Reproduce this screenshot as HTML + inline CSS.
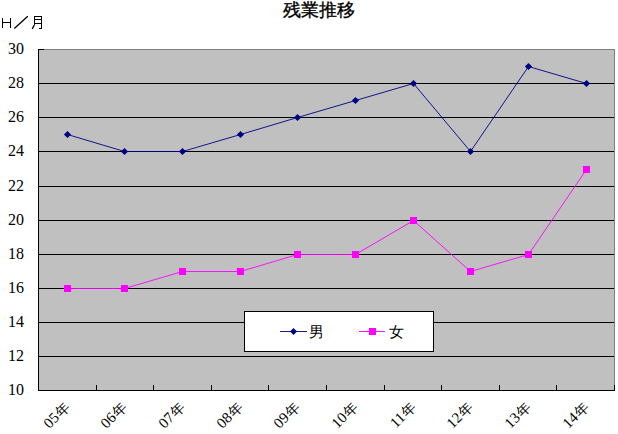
<!DOCTYPE html><html><head><meta charset="utf-8"><style>html,body{margin:0;padding:0;background:#fff;width:618px;height:434px;overflow:hidden}svg{display:block}text{font-family:"Liberation Serif",serif}.g{font-family:"Liberation Sans",sans-serif}</style></head><body><svg width="618" height="434" viewBox="0 0 618 434"><rect x="0" y="0" width="618" height="434" fill="#fff"/><rect x="38" y="49" width="576" height="341" fill="#c0c0c0"/><g shape-rendering="crispEdges" stroke-width="1" fill="none"><path d="M38 49.5H614.5V390" stroke="#808080"/><path d="M38 83.5H614" stroke="#000"/><path d="M38 117.5H614" stroke="#000"/><path d="M38 151.5H614" stroke="#000"/><path d="M38 186.5H614" stroke="#000"/><path d="M38 220.5H614" stroke="#000"/><path d="M38 254.5H614" stroke="#000"/><path d="M38 288.5H614" stroke="#000"/><path d="M38 322.5H614" stroke="#000"/><path d="M38 356.5H614" stroke="#000"/><path d="M38 49.5H44" stroke="#000"/><path d="M38.5 49V390.5H615" stroke="#000"/><path d="M96.5 385V390" stroke="#000"/><path d="M153.5 385V390" stroke="#000"/><path d="M211.5 385V390" stroke="#000"/><path d="M268.5 385V390" stroke="#000"/><path d="M326.5 385V390" stroke="#000"/><path d="M384.5 385V390" stroke="#000"/><path d="M441.5 385V390" stroke="#000"/><path d="M499.5 385V390" stroke="#000"/><path d="M556.5 385V390" stroke="#000"/><path d="M614.5 385V390" stroke="#000"/></g><polyline points="67.5,134.5 124.5,151.5 182.5,151.5 240.5,134.5 297.5,117.5 355.5,100.5 413.5,83.5 470.5,151.5 528.5,66.5 586.5,83.5" fill="none" stroke="#000080" stroke-width="0.9" stroke-linejoin="round"/><polyline points="67.5,288.5 124.5,288.5 182.5,271.5 240.5,271.5 297.5,254.5 355.5,254.5 413.5,220.5 470.5,271.5 528.5,254.5 586.5,169.5" fill="none" stroke="#ff00ff" stroke-width="0.9" stroke-linejoin="round"/><path d="M67.5 130.9L71.1 134.5L67.5 138.1L63.9 134.5Z" fill="#000080"/><path d="M124.5 147.9L128.1 151.5L124.5 155.1L120.9 151.5Z" fill="#000080"/><path d="M182.5 147.9L186.1 151.5L182.5 155.1L178.9 151.5Z" fill="#000080"/><path d="M240.5 130.9L244.1 134.5L240.5 138.1L236.9 134.5Z" fill="#000080"/><path d="M297.5 113.9L301.1 117.5L297.5 121.1L293.9 117.5Z" fill="#000080"/><path d="M355.5 96.9L359.1 100.5L355.5 104.1L351.9 100.5Z" fill="#000080"/><path d="M413.5 79.9L417.1 83.5L413.5 87.1L409.9 83.5Z" fill="#000080"/><path d="M470.5 147.9L474.1 151.5L470.5 155.1L466.9 151.5Z" fill="#000080"/><path d="M528.5 62.9L532.1 66.5L528.5 70.1L524.9 66.5Z" fill="#000080"/><path d="M586.5 79.9L590.1 83.5L586.5 87.1L582.9 83.5Z" fill="#000080"/><rect x="64" y="285" width="7" height="7" fill="#ff00ff"/><rect x="121" y="285" width="7" height="7" fill="#ff00ff"/><rect x="179" y="268" width="7" height="7" fill="#ff00ff"/><rect x="237" y="268" width="7" height="7" fill="#ff00ff"/><rect x="294" y="251" width="7" height="7" fill="#ff00ff"/><rect x="352" y="251" width="7" height="7" fill="#ff00ff"/><rect x="410" y="217" width="7" height="7" fill="#ff00ff"/><rect x="467" y="268" width="7" height="7" fill="#ff00ff"/><rect x="525" y="251" width="7" height="7" fill="#ff00ff"/><rect x="583" y="166" width="7" height="7" fill="#ff00ff"/><rect x="244.5" y="311.5" width="189" height="40" fill="#fff" stroke="#000" stroke-width="1" shape-rendering="crispEdges"/><path d="M280 331.5H307" stroke="#000080" stroke-width="0.9"/><path d="M293.5 328L297 331.5L293.5 335L290 331.5Z" fill="#000080"/><path d="M359 331.5H385" stroke="#ff00ff" stroke-width="0.9"/><rect x="369" y="328" width="7" height="7" fill="#ff00ff"/><text class="g" x="309" y="336.5" font-size="15">男</text><text class="g" x="388.5" y="336.5" font-size="15">女</text><text x="24" y="53.5" font-size="16" text-anchor="end">30</text><text x="24" y="87.5" font-size="16" text-anchor="end">28</text><text x="24" y="121.5" font-size="16" text-anchor="end">26</text><text x="24" y="155.5" font-size="16" text-anchor="end">24</text><text x="24" y="190.5" font-size="16" text-anchor="end">22</text><text x="24" y="224.5" font-size="16" text-anchor="end">20</text><text x="24" y="258.5" font-size="16" text-anchor="end">18</text><text x="24" y="292.5" font-size="16" text-anchor="end">16</text><text x="24" y="326.5" font-size="16" text-anchor="end">14</text><text x="24" y="360.5" font-size="16" text-anchor="end">12</text><text x="24" y="394.5" font-size="16" text-anchor="end">10</text><g stroke="#000" fill="none" shape-rendering="crispEdges"><path d="M2.5 18V28M10.5 18V28M2 22.5H11M34.5 16V25M34 16.5H42M41.5 16V29M34 19.5H42M34 23.5H42M39 28.5H42"/></g><path d="M14.3 28.4L27.8 16.2M34.3 25.2L32.2 28.8" stroke="#000" stroke-width="1.3" fill="none"/><text class="g" x="319" y="15.5" font-size="17.5" font-weight="500" stroke="#000" stroke-width="0.35" text-anchor="middle">残業推移</text><text x="0" y="0" font-size="15" text-anchor="end" transform="translate(63.5,401) rotate(-45) translate(0,10)">05<tspan dx="0.8" font-size="14" class="g">年</tspan></text><text x="0" y="0" font-size="15" text-anchor="end" transform="translate(120.5,401) rotate(-45) translate(0,10)">06<tspan dx="0.8" font-size="14" class="g">年</tspan></text><text x="0" y="0" font-size="15" text-anchor="end" transform="translate(178.5,401) rotate(-45) translate(0,10)">07<tspan dx="0.8" font-size="14" class="g">年</tspan></text><text x="0" y="0" font-size="15" text-anchor="end" transform="translate(236.5,401) rotate(-45) translate(0,10)">08<tspan dx="0.8" font-size="14" class="g">年</tspan></text><text x="0" y="0" font-size="15" text-anchor="end" transform="translate(293.5,401) rotate(-45) translate(0,10)">09<tspan dx="0.8" font-size="14" class="g">年</tspan></text><text x="0" y="0" font-size="15" text-anchor="end" transform="translate(351.5,401) rotate(-45) translate(0,10)">10<tspan dx="0.8" font-size="14" class="g">年</tspan></text><text x="0" y="0" font-size="15" text-anchor="end" transform="translate(409.5,401) rotate(-45) translate(0,10)">11<tspan dx="0.8" font-size="14" class="g">年</tspan></text><text x="0" y="0" font-size="15" text-anchor="end" transform="translate(466.5,401) rotate(-45) translate(0,10)">12<tspan dx="0.8" font-size="14" class="g">年</tspan></text><text x="0" y="0" font-size="15" text-anchor="end" transform="translate(524.5,401) rotate(-45) translate(0,10)">13<tspan dx="0.8" font-size="14" class="g">年</tspan></text><text x="0" y="0" font-size="15" text-anchor="end" transform="translate(582.5,401) rotate(-45) translate(0,10)">14<tspan dx="0.8" font-size="14" class="g">年</tspan></text></svg></body></html>
